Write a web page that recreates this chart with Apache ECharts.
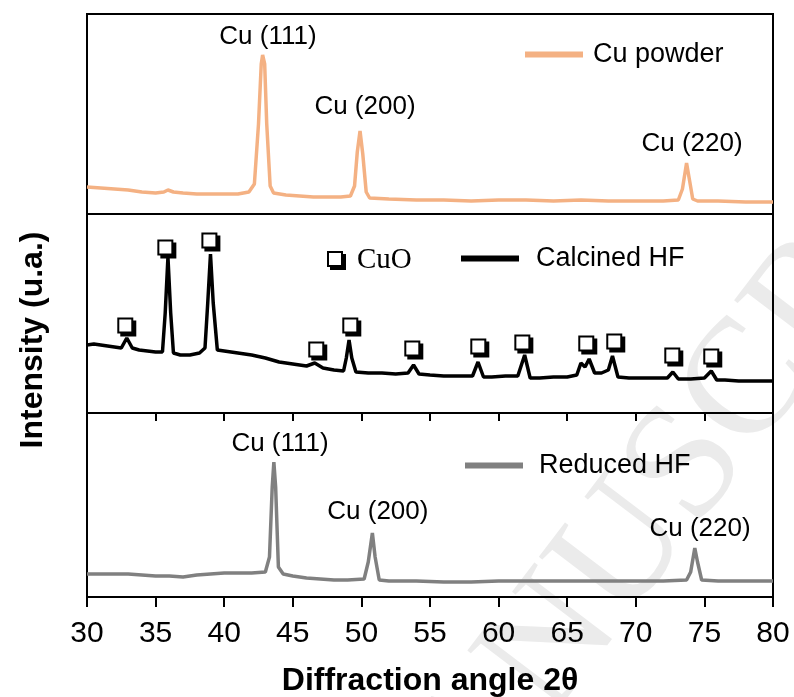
<!DOCTYPE html>
<html>
<head>
<meta charset="utf-8">
<script src="https://cdn.jsdelivr.net/npm/echarts@6/dist/echarts.min.js"></script>
<style>
  html, body { margin: 0; padding: 0; background: #fff; }
  #main { width: 794px; height: 697px; }
</style>
</head>
<body>
<div id="main"></div>
<script>
// 数据
var xTicks = [30, 35, 40, 45, 50, 55, 60, 65, 70, 75, 80];

// Cu powder
var powderAngle = [30, 31, 32, 33, 34, 35, 35.6, 35.9, 36.3, 37, 38, 39, 40, 41, 41.8, 42.2, 42.5, 42.7, 42.8, 42.95, 43.1, 43.35, 43.6, 44.5, 45.5, 46.5, 47.5, 48.5, 49.2, 49.5, 49.7, 49.9, 50.1, 50.35, 50.6, 52, 54, 56, 58, 60, 62, 64, 66, 68, 70, 72, 73.1, 73.4, 73.7, 73.9, 74.15, 74.5, 76, 78, 80];
var powderInt = [27, 26, 25, 24, 22, 21, 22, 24, 22, 21, 20, 20, 20, 20, 22, 30, 90, 150, 159, 150, 90, 28, 21, 19, 18, 17, 17, 17, 18, 28, 62, 83, 60, 22, 16, 15, 14, 14, 13, 14, 14, 13, 14, 13, 13, 13, 14, 25, 51, 35, 15, 13, 13, 12, 12];

// Calcined HF
var calcAngle = [30, 30.5, 31, 31.5, 32, 32.5, 32.9, 33.3, 33.8, 34.4, 35, 35.5, 35.7, 35.9, 36.1, 36.3, 36.8, 37.5, 38.2, 38.6, 38.8, 39, 39.2, 39.5, 40, 40.5, 41, 42, 43, 44, 45, 46, 46.6, 47.2, 48, 48.7, 48.9, 49.1, 49.3, 49.6, 50.5, 51.5, 52.5, 53.4, 53.8, 54.2, 55, 56, 57, 58.1, 58.5, 58.9, 59.5, 60.5, 61.4, 61.9, 62.3, 63, 64, 65, 65.7, 66, 66.3, 66.6, 67, 67.5, 68, 68.3, 68.7, 69.5, 70.5, 71.5, 72.3, 72.7, 73.1, 74, 75, 75.5, 75.9, 76.5, 77.5, 78.5, 79.5, 80];
var calcInt = [68, 69, 68, 67, 66, 65, 75, 65, 63, 62, 61, 61, 100, 156, 100, 60, 58, 58, 60, 65, 110, 159, 110, 63, 62, 61, 60, 58, 55, 51, 49, 47, 50, 45, 43, 42, 55, 73, 55, 41, 40, 40, 39, 40, 48, 39, 38, 37, 37, 37, 51, 36, 36, 37, 37, 58, 35, 35, 36, 36, 38, 50, 46, 54, 40, 40, 43, 57, 36, 35, 35, 35, 35, 41, 34, 34, 35, 42, 33, 33, 32, 32, 32, 32];

// Reduced HF
var redAngle = [30, 31, 32, 33, 34, 35, 36, 37, 38, 39, 40, 41, 42, 43, 43.3, 43.5, 43.62, 43.75, 43.95, 44.3, 45, 46, 47, 48, 49, 50.2, 50.5, 50.8, 51, 51.3, 52, 54, 56, 58, 60, 62, 64, 66, 68, 70, 72, 73.7, 74, 74.3, 74.5, 74.6, 74.8, 76, 78, 80];
var redInt = [23, 23, 23, 23, 22, 21, 21, 20, 22, 23, 24, 24, 24, 25, 40, 110, 135, 110, 30, 23, 21, 19, 18, 17, 17, 18, 35, 64, 40, 17, 16, 16, 15, 15, 16, 16, 16, 16, 16, 16, 16, 17, 25, 49, 35, 33, 17, 16, 16, 16];

// CuO 峰位标记
var cuoAngle = [32.9, 35.82, 39.03, 46.82, 49.3, 53.82, 58.63, 61.84, 66.5, 68.54, 72.77, 75.61];
var cuoLevel = [86, 164, 171, 62, 86, 63, 65, 69, 68, 70, 56, 55];

// 峰的标注
var topLabels = ['Cu (111)', 'Cu (200)', 'Cu (220)'];
var topLabelAngle = [43.19, 50.26, 74.1];
var topLabelLevel = [177, 107, 70];
var botLabels = ['Cu (111)', 'Cu (200)', 'Cu (220)'];
var botLabelAngle = [44.07, 51.2, 74.68];
var botLabelLevel = [153, 85, 68];

var FONT = 'Liberation Sans, Arial, sans-serif';
var SERIF = 'Liberation Serif, Times New Roman, serif';
// 带阴影的方框符号
var BOX = 'path://M0,0L16,0L16,3L19,3L19,19L3,19L3,16L0,16ZM2,2L2,14L14,14L14,2Z';

function pairs(a, b) {
    return a.map(function (v, i) { return [v, b[i]]; });
}
function marks(names, a, b) {
    return names.map(function (n, i) { return { name: n, coord: [a[i], b[i]] }; });
}

var myChart = echarts.init(document.getElementById('main'));

var gridBase = { left: 87, right: 21, show: true, borderColor: '#000', borderWidth: 2, backgroundColor: 'transparent' };

function xAxisCfg(grid, pos, tick, label) {
    return {
        type: 'value', gridIndex: grid, position: pos, min: 30, max: 80, interval: 5,
        axisLine: { show: false },
        splitLine: { show: false },
        axisTick: tick,
        axisLabel: label
    };
}
function yAxisCfg(grid, max) {
    return { type: 'value', gridIndex: grid, min: 0, max: max, show: false, splitLine: { show: false } };
}

var markLabel = {
    show: true, position: 'inside', color: '#000', fontSize: 26, fontFamily: FONT,
    formatter: '{b}'
};

var option = {
    animation: false,
    backgroundColor: '#fff',
    grid: [
        Object.assign({ top: 14, height: 200 }, gridBase),
        Object.assign({ top: 214, height: 199 }, gridBase),
        Object.assign({ top: 413, height: 184 }, gridBase)
    ],
    xAxis: [
        xAxisCfg(0, 'bottom', { show: false }, { show: false }),
        xAxisCfg(1, 'top', { show: true, inside: true, length: 8, lineStyle: { color: '#000', width: 2 } }, { show: false }),
        xAxisCfg(2, 'top', { show: true, inside: true, length: 8, lineStyle: { color: '#000', width: 2 } }, { show: false }),
        xAxisCfg(2, 'bottom', { show: true, inside: false, length: 10, lineStyle: { color: '#000', width: 2 } },
            { show: true, fontSize: 30, fontFamily: FONT, color: '#000', margin: 22 })
    ],
    yAxis: [yAxisCfg(0, 200), yAxisCfg(1, 199), yAxisCfg(2, 184)],
    legend: [
        {
            data: ['Cu powder'], left: 525, top: 41, icon: 'rect', itemWidth: 58, itemHeight: 6,
            selectedMode: false, padding: 0,
            textStyle: { fontSize: 27, fontFamily: FONT, color: '#000', padding: [0, 0, 0, 5] }
        },
        {
            data: ['CuO'], left: 327, top: 246, icon: BOX, itemWidth: 19, itemHeight: 19,
            selectedMode: false, padding: 0,
            textStyle: { fontSize: 29, fontFamily: SERIF, color: '#000', padding: [0, 0, 0, 6] }
        },
        {
            data: ['Calcined HF'], left: 461, top: 245, icon: 'rect', itemWidth: 58, itemHeight: 6,
            selectedMode: false, padding: 0,
            textStyle: { fontSize: 27, fontFamily: FONT, color: '#000', padding: [0, 0, 0, 12] }
        },
        {
            data: ['Reduced HF'], left: 465, top: 452, icon: 'rect', itemWidth: 58, itemHeight: 6,
            selectedMode: false, padding: 0,
            textStyle: { fontSize: 27, fontFamily: FONT, color: '#000', padding: [0, 0, 0, 11] }
        }
    ],
    graphic: [
        {
            // 水印
            type: 'text', x: 355, y: 905, rotation: 0.92, z: -1,
            style: { text: 'MANUSCRIPT', font: '165px ' + SERIF, fill: '#ebebeb', align: 'left', verticalAlign: 'middle' }
        },
        {
            type: 'text', x: 33, y: 340, rotation: Math.PI / 2,
            style: { text: 'Intensity (u.a.)', font: 'bold 32px ' + FONT, fill: '#000', align: 'center', verticalAlign: 'middle' }
        },
        {
            type: 'text', x: 430, y: 681,
            style: { text: 'Diffraction angle 2θ', font: 'bold 32px ' + FONT, fill: '#000', align: 'center', verticalAlign: 'middle' }
        }
    ],
    series: [
        {
            name: 'Cu powder', type: 'line', xAxisIndex: 0, yAxisIndex: 0,
            showSymbol: false, symbol: 'none',
            color: '#F4B183',
            lineStyle: { width: 3.5, color: '#F4B183' },
            data: pairs(powderAngle, powderInt),
            markPoint: { symbolSize: 0, label: markLabel, data: marks(topLabels, topLabelAngle, topLabelLevel) }
        },
        {
            name: 'Calcined HF', type: 'line', xAxisIndex: 1, yAxisIndex: 1,
            showSymbol: false, symbol: 'none',
            color: '#000',
            lineStyle: { width: 3.5, color: '#000' },
            data: pairs(calcAngle, calcInt)
        },
        {
            name: 'CuO', type: 'scatter', xAxisIndex: 1, yAxisIndex: 1,
            symbol: BOX, symbolSize: 19,
            itemStyle: { color: '#000', opacity: 1 },
            data: pairs(cuoAngle, cuoLevel),
            z: 5
        },
        {
            name: 'Reduced HF', type: 'line', xAxisIndex: 3, yAxisIndex: 2,
            showSymbol: false, symbol: 'none',
            color: '#808080',
            lineStyle: { width: 3.5, color: '#808080' },
            data: pairs(redAngle, redInt),
            markPoint: { symbolSize: 0, label: markLabel, data: marks(botLabels, botLabelAngle, botLabelLevel) }
        }
    ]
};

myChart.setOption(option);
window.onresize = function () {
    myChart.resize();
};
</script>
</body>
</html>
